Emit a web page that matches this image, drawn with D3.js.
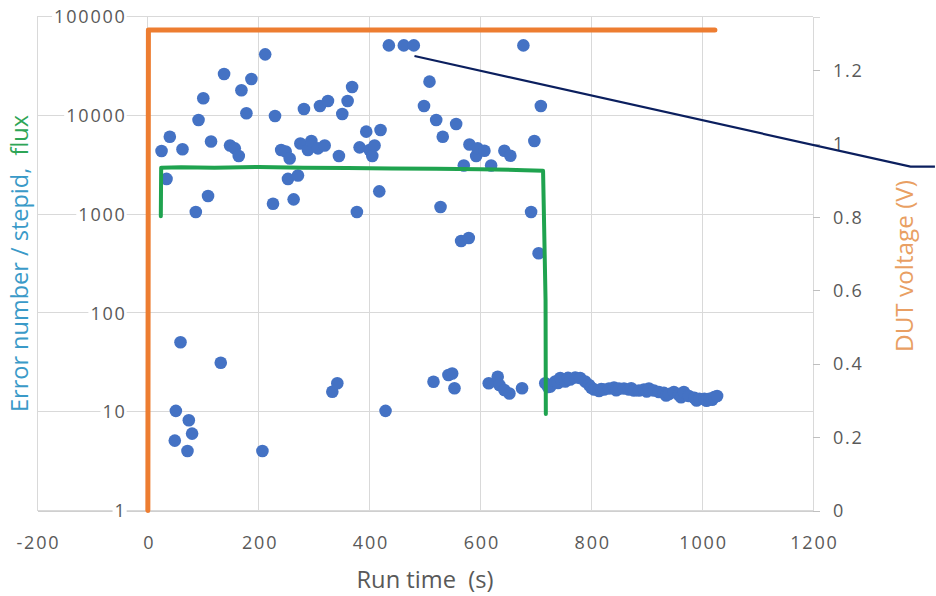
<!DOCTYPE html>
<html><head><meta charset="utf-8">
<script src="https://cdn.jsdelivr.net/npm/d3@7"></script>
<style>
html,body{margin:0;padding:0;background:#fff;}
svg{display:block;}
text{font-family:"Open Sans",sans-serif;}
</style></head><body>
<svg id="chart" width="936" height="596"></svg>
<script>
// ---------- data ----------
const errTime = [24.7,33.7,39.6,48.6,50.5,58.9,62.5,71.5,73.9,79.8,86.5,91.4,100,108.6,114,131.5,137.5,148.3,156.8,164,168.8,177.8,186.8,206.7,211.7,225.8,229.4,240.5,248.6,252.8,255.9,263,270.8,275.1,281.6,288.8,295,306.8,310.5,319,324.9,332.8,341.8,344.7,350.8,360.4,368.5,377.1,382,394,400,404.9,409,417.5,419.8,428.8,434.8,461.8,479.8,498.2,508.1,515.3,520.2,528,532,542.3,549,553.2,556.2,565.2,570,579,580.2,592.3,595.1,607.2,615,619.3,631.2,634.2,643.2,643.2,652.3,654,675.1,677.5,691.4,697.3,705,709,
  717,722,726,735,740,744,753,758,762,771,780,789,796,800,805,814,818,823,832,841,845,850,859,868,872,877,886,895,900,904,913,922,931,935,940,949,958,962,967,976,986,990,995,1004,1008,1013,1018,1022,1027];
const errCount = [4350,2270,6070,5.1,10.2,50.4,4530,4.0,8.2,6.0,1050,8960,14860,1525,5430,31.3,26200,4950,4630,3870,17900,10500,23300,4.0,41400,1275,9840,4450,4300,2270,3650,1410,2460,5190,11580,4450,5500,4630,12420,4950,13960,15.9,19.4,3870,10300,13960,19350,1050,4740,6830,4450,3870,4950,1700,7100,10.2,51000,51000,51000,12420,21900,20.1,8960,1180,6070,23.5,24.4,17.3,8170,535,3100,573,5060,3870,4630,4380,19.4,3100,22.6,18.6,4380,16.6,15.3,3900,17.3,51000,1050,5500,401,12420,
  19.4,17.8,18.0,20.2,19.5,21.9,20.2,22.0,21.2,22.2,21.9,20.2,18.6,17.5,16.8,16.2,17.0,16.8,17.2,17.6,16.5,17.2,17.2,16.8,17.3,16.4,16.4,16.8,16.0,17.2,16.4,15.8,15.5,14.6,15.1,15.8,14.8,14.0,15.8,14.4,13.8,13.0,13.5,13.5,12.9,13.5,13.2,14.1,14.4];

const fluxTime  = [23.4, 24, 60, 120, 200, 280, 360, 440, 520, 600, 680, 713, 717.5, 718];
const fluxValue = [950, 2950, 2980, 2950, 3000, 2950, 2920, 2900, 2880, 2850, 2780, 2750, 135, 9.5];

const voltTime  = [0, 1, 1023];
const voltValue = [0, 1.31, 1.31];

const calloutTime  = [481, 1376, 1420];
const calloutValue = [39800, 3020, 3020];

const xTicks      = [-200, 0, 200, 400, 600, 800, 1000, 1200];
const yLeftTicks  = [1, 10, 100, 1000, 10000, 100000];
const yRightTicks = [0, 0.2, 0.4, 0.6, 0.8, 1.0, 1.2];

// ---------- layout ----------
const plot = {left: 37, right: 813, top: 16.5, bottom: 510.5};
const x  = d3.scaleLinear().domain([-200, 1200]).range([plot.left, plot.right]);
const yL = d3.scaleLog().domain([1, 100000]).range([plot.bottom, plot.top]);
const yR = d3.scaleLinear().domain([0, 1.3465]).range([plot.bottom, plot.top]);

const svg = d3.select('#chart');
svg.append('rect').attr('width', 936).attr('height', 596).attr('fill', '#fff');

const gridColor = '#d9d9d9';
const labelColor = '#595959';
const fmtInt = d => String(Math.round(d));

// gridlines
const grid = svg.append('g').attr('shape-rendering', 'crispEdges');
grid.selectAll('line.h').data(yLeftTicks).join('line').attr('class', 'h')
  .attr('x1', plot.left).attr('x2', plot.right)
  .attr('y1', d => yL(d)).attr('y2', d => yL(d))
  .attr('stroke', gridColor).attr('stroke-width', 1);
grid.selectAll('line.v').data(xTicks).join('line').attr('class', 'v')
  .attr('x1', d => x(d)).attr('x2', d => x(d))
  .attr('y1', plot.top).attr('y2', plot.bottom)
  .attr('stroke', gridColor).attr('stroke-width', 1);

// bottom axis
const gx = svg.append('g').attr('transform', `translate(0,${plot.bottom})`)
  .call(d3.axisBottom(x).tickValues(xTicks).tickSize(0).tickFormat(fmtInt));
gx.select('.domain').attr('stroke', '#cfcfcf').attr('shape-rendering', 'crispEdges');
gx.selectAll('text').attr('y', 0).attr('dy', 38.5)
  .attr('fill', labelColor).style('font-size', '18px').style('letter-spacing', '1.8px')
  .attr('dx', 0.9);

// left axis at x = 0 with labels to the left
const gy = svg.append('g').attr('transform', `translate(${x(0)},0)`)
  .call(d3.axisLeft(yL).tickValues(yLeftTicks).tickSize(0).tickFormat(fmtInt));
gy.select('.domain').remove();
gy.selectAll('text').attr('x', -21.2).attr('dy', '0.34em')
  .attr('fill', labelColor).style('font-size', '18px').style('letter-spacing', '1.8px');
gy.selectAll('.tick').each(function () {
  const t = d3.select(this).select('text');
  const b = t.node().getBBox();
  d3.select(this).insert('rect', 'text')
    .attr('x', b.x - 2).attr('y', b.y + 2).attr('width', b.width + 2).attr('height', b.height - 4)
    .attr('fill', '#fff');
});

// right axis
const gr = svg.append('g').attr('transform', `translate(${plot.right},0)`)
  .call(d3.axisRight(yR).tickValues(yRightTicks).tickSize(7).tickPadding(13).tickFormat(d3.format('~g')));
gr.select('.domain').attr('stroke', gridColor).attr('shape-rendering', 'crispEdges');
gr.selectAll('line').attr('stroke', '#bfbfbf').attr('shape-rendering', 'crispEdges');
gr.selectAll('text').attr('fill', labelColor).style('font-size', '18px').style('letter-spacing', '1.8px').attr('dy', '0.34em');

// scatter: error number
svg.append('g').selectAll('circle').data(errTime.map((t, i) => [t, errCount[i]])).join('circle')
  .attr('cx', d => x(d[0])).attr('cy', d => yL(d[1])).attr('r', 6.3)
  .attr('fill', '#4472C4');

// flux line
svg.append('path').datum(fluxTime.map((t, i) => [t, fluxValue[i]]))
  .attr('d', d3.line().x(d => x(d[0])).y(d => yL(d[1])))
  .attr('fill', 'none').attr('stroke', '#1FA34F').attr('stroke-width', 4)
  .attr('stroke-linejoin', 'round').attr('stroke-linecap', 'round');

// voltage line (secondary axis)
svg.append('path').datum(voltTime.map((t, i) => [t, voltValue[i]]))
  .attr('d', d3.line().x(d => x(d[0])).y(d => yR(d[1])))
  .attr('fill', 'none').attr('stroke', '#ED7D31').attr('stroke-width', 5)
  .attr('stroke-linejoin', 'round').attr('stroke-linecap', 'round');

// callout line
svg.append('path').datum(calloutTime.map((t, i) => [t, calloutValue[i]]))
  .attr('d', d3.line().x(d => x(d[0])).y(d => yL(d[1])))
  .attr('fill', 'none').attr('stroke', '#0B1F5E').attr('stroke-width', 2.2);

// titles
svg.append('text').attr('x', 425).attr('y', 588).attr('text-anchor', 'middle')
  .style('white-space', 'pre').style('font-size', '23px').attr('fill', labelColor)
  .attr('textLength', 137).attr('lengthAdjust', 'spacingAndGlyphs')
  .text('Run time  (s)');

const lt = svg.append('text').attr('transform', 'translate(28,263.5) rotate(-90)')
  .attr('text-anchor', 'middle').style('white-space', 'pre').style('font-size', '24px')
  .attr('textLength', 297).attr('lengthAdjust', 'spacingAndGlyphs');
lt.append('tspan').attr('fill', '#3A9AC8').text('Error number / stepid,  ');
lt.append('tspan').attr('fill', '#2EA556').text('flux');

svg.append('text').attr('transform', 'translate(913,266) rotate(-90)')
  .attr('text-anchor', 'middle').style('font-size', '24px').attr('fill', '#E99F63')
  .attr('textLength', 172).attr('lengthAdjust', 'spacingAndGlyphs')
  .text('DUT voltage (V)');
</script>
</body></html>
